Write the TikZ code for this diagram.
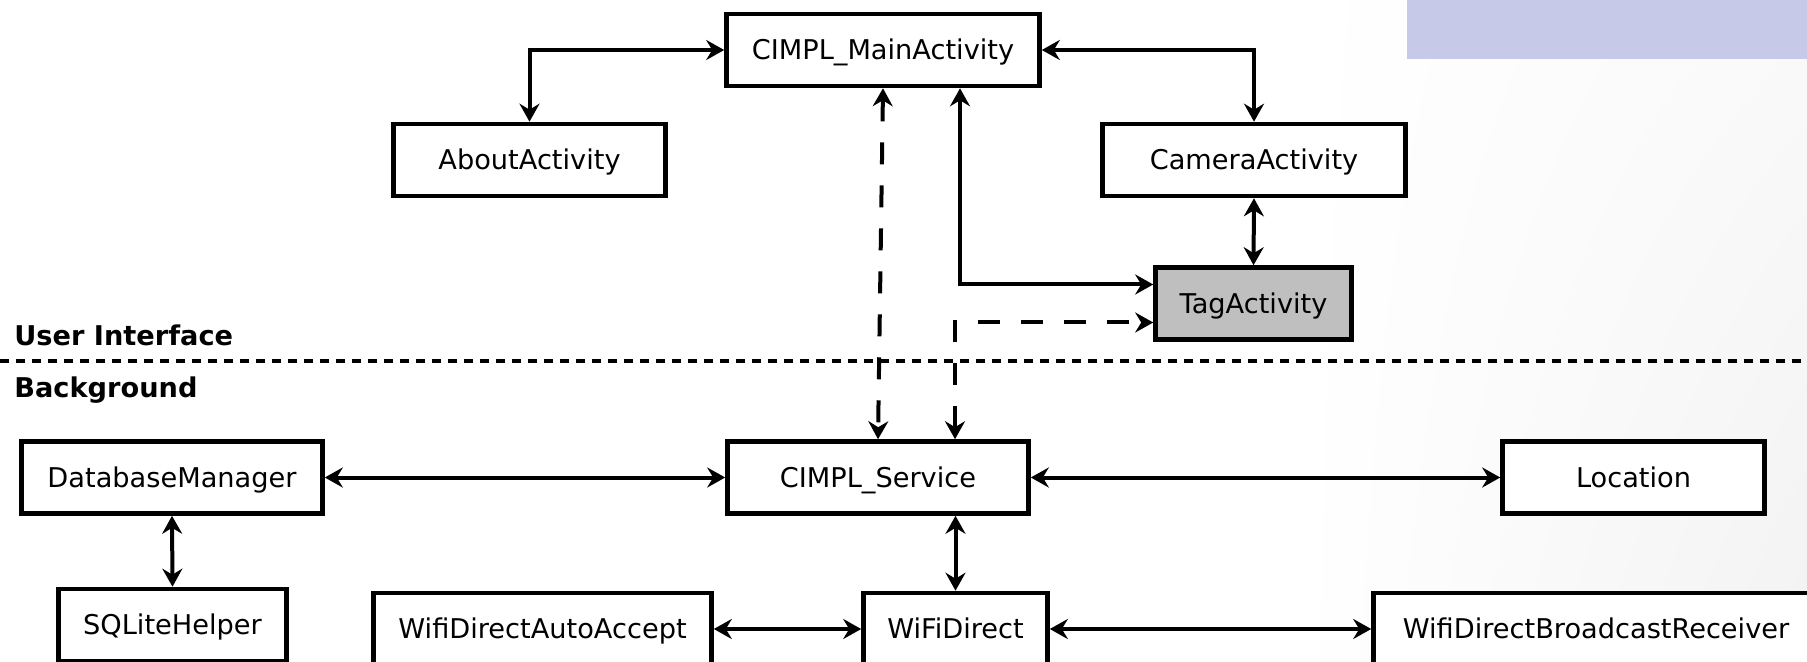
\documentclass[tikz,border=0pt]{standalone}
\usepackage{fontspec}
\setmainfont{DejaVu Sans}
\usetikzlibrary{arrows.meta,shadings}
\definecolor{bannerblue}{RGB}{198,202,232}
\definecolor{taggray}{RGB}{191,191,191}
\begin{document}
\begin{tikzpicture}[x=0.5pt, y=-0.5pt,
  box/.style={draw, fill=white, line width=2.3pt, minimum height=36pt, inner sep=0pt, text height=13.3pt, text depth=3.4pt, font=\fontsize{13.6}{16}\selectfont},
  link/.style={line width=2pt, {Stealth[length=9pt,width=10pt,inset=3pt]}-{Stealth[length=9pt,width=10pt,inset=3pt]}},
  dlink/.style={link, dash pattern=on 11pt off 10.5pt},
  layer/.style={font=\fontsize{13.6}{16}\selectfont\bfseries, anchor=base west, inner sep=0pt}]%
\clip (0, 0) rectangle (1807, 662);%
\shade[upper left=white, lower left=white, upper right=black!2, lower right=black!5] (1300, 0) rectangle (1807, 662);%
\fill[bannerblue] (1407, 0) rectangle (1807, 59);%
% user interface
\node[box, minimum width=156.5pt] (main) at (883, 50) {CIMPL\_MainActivity};%
\node[box, minimum width=136pt] (about) at (529.5, 160) {AboutActivity};%
\node[box, minimum width=151.6pt] (camera) at (1254, 160) {CameraActivity};%
\node[box, minimum width=98pt, fill=taggray] (tag) at (1253.5, 303.5) {TagActivity};%
% layers
\draw[line width=2pt, dash pattern=on 4.5pt off 3.5pt] (0, 361) -- (1807, 361);%
\node[layer] (ui) at (14, 345) {User Interface};%
\node[layer] (bg) at (14, 397) {Background};%
% background
\node[box, minimum width=150.5pt] (db) at (172, 477.5) {DatabaseManager};%
\node[box, minimum width=114pt] (sqlite) at (172.5, 625) {SQLiteHelper};%
\node[box, minimum width=150.5pt] (service) at (878, 477.5) {CIMPL\_Service};%
\node[box, minimum width=131pt] (location) at (1633.5, 477.5) {Location};%
\node[box, minimum width=169pt] (accept) at (542.5, 629) {WifiDirectAutoAccept};%
\node[box, minimum width=92pt] (wifi) at (955.5, 629) {WiFiDirect};%
\node[box, minimum width=222.5pt] (receiver) at (1596, 629) {WifiDirectBroadcastReceiver};%
% connectors
\draw[link] (about.north) |- (main.west);%
\draw[link] (main.east) -| (camera.north);%
\draw[link] (camera.south) -- (tag.north);%
\draw[link] ([xshift=38.5pt]main.south) |- ([yshift=9.5pt]tag.west);%
\draw[dlink] (main.south) -- (service.north);%
\draw[dlink] ([xshift=38.5pt]service.north) |- ([yshift=-9.5pt]tag.west);%
\draw[link] (db.east) -- (service.west);%
\draw[link] (service.east) -- (location.west);%
\draw[link] (db.south) -- (sqlite.north);%
\draw[link] (service.south -| wifi.north) -- (wifi.north);%
\draw[link] (accept.east) -- (wifi.west);%
\draw[link] (wifi.east) -- (receiver.west);%
\end{tikzpicture}
\end{document}
